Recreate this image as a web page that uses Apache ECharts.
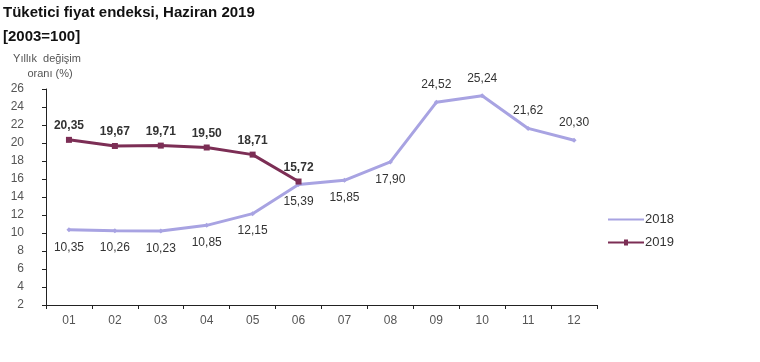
<!DOCTYPE html>
<html><head><meta charset="utf-8">
<script src="https://cdn.jsdelivr.net/npm/echarts@6/dist/echarts.min.js"></script>
<style>html,body{margin:0;padding:0;background:#fff}#c{width:760px;height:362px}</style>
</head><body><div id="c"></div>
<script>
var categories = ['01','02','03','04','05','06','07','08','09','10','11','12'];
var values2018 = [10.35,10.26,10.23,10.85,12.15,15.39,15.85,17.90,24.52,25.24,21.62,20.30];
var values2019 = [20.35,19.67,19.71,19.50,18.71,15.72];
var labelPos2018 = ['bottom','bottom','bottom','bottom','bottom','bottom','bottom','bottom','top','top','top','top'];
var titleText = 'Tüketici fiyat endeksi, Haziran 2019';
var subText = '[2003=100]';
var yName = 'Yıllık  değişim\n  oranı (%)';

function fmt(v){ return v.toFixed(2).replace('.', ','); }

var chart = echarts.init(document.getElementById('c'));
var font = 'Liberation Sans, Arial, sans-serif';
chart.setOption({
  animation: false,
  textStyle: {fontFamily: font},
  title: [
    {text: titleText, left: 3, top: 5, padding: 0, textStyle: {fontSize: 15, fontWeight: 'bold', color: '#111', fontFamily: font}},
    {text: subText, left: 3, top: 29, padding: 0, textStyle: {fontSize: 15, fontWeight: 'bold', color: '#111', fontFamily: font}}
  ],
  legend: {
    orient: 'vertical', left: 603, top: 208, itemGap: 10, itemWidth: 36, itemHeight: 10,
    textStyle: {fontSize: 13, color: '#333', padding: [0,0,0,-4]},
    data: [
      {name: '2018', icon: 'path://M0,4 L36,4 L36,6 L0,6 Z'},
      {name: '2019', icon: 'path://M0,4 L36,4 L36,6 L0,6 Z M16,2 L20,2 L20,8 L16,8 Z'}
    ]
  },
  grid: {left: 46, right: 163, top: 89, bottom: 57},
  xAxis: {
    type: 'category', data: categories, boundaryGap: true,
    axisLine: {lineStyle: {color: '#222', width: 1}},
    axisTick: {show: true, length: 4, inside: false, lineStyle: {color: '#222'}},
    axisLabel: {color: '#555', fontSize: 12, margin: 10}
  },
  yAxis: {
    type: 'value', min: 2, max: 26, interval: 2,
    name: yName, nameLocation: 'end', nameGap: 8,
    nameTextStyle: {color: '#555', fontSize: 11, align: 'center', padding: [0,0,0,2], lineHeight: 15},
    axisLine: {show: true, lineStyle: {color: '#222', width: 1}},
    axisTick: {show: true, length: 4, lineStyle: {color: '#222'}},
    axisLabel: {color: '#555', fontSize: 12, margin: 22},
    splitLine: {show: false}
  },
  series: [
    {
      name: '2018', type: 'line', data: values2018.map(function(v,i){
        return {value: v, label: {position: labelPos2018[i], distance: 9}};
      }),
      lineStyle: {color: '#A8A3E2', width: 3},
      itemStyle: {color: '#A8A3E2'},
      symbol: 'diamond', symbolSize: 5, showSymbol: true,
      label: {show: true, color: '#333', fontSize: 12, formatter: function(p){return fmt(p.value);}},
      z: 2
    },
    {
      name: '2019', type: 'line', data: values2019,
      lineStyle: {color: '#7C2E55', width: 3},
      itemStyle: {color: '#7C2E55'},
      symbol: 'rect', symbolSize: 6,
      label: {show: true, position: 'top', distance: 5, color: '#333', fontSize: 12, fontWeight: 'bold', formatter: function(p){return fmt(p.value);}},
      z: 3
    }
  ]
});
</script></body></html>
